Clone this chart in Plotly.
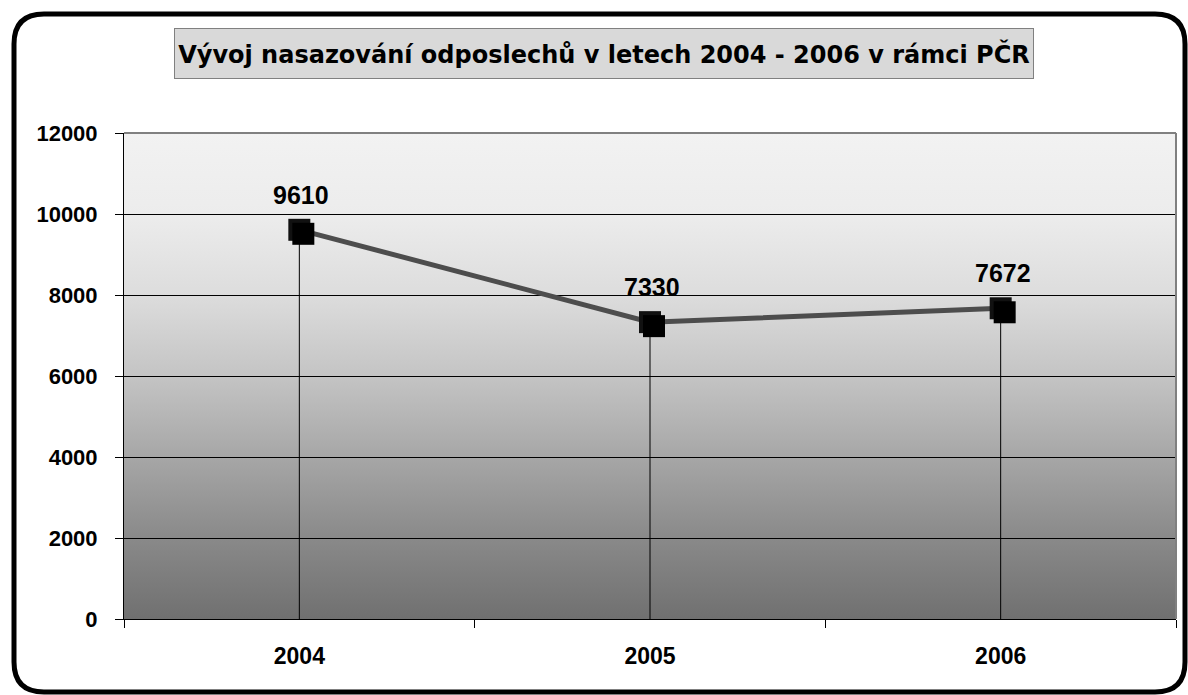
import base64
import plotly.graph_objects as go

# ---- data ----
years = ["2004", "2005", "2006"]
values = [9610, 7330, 7672]
y_ticks = [0, 2000, 4000, 6000, 8000, 10000, 12000]
title_text = "Vývoj nasazování odposlechů v letech 2004 - 2006 v rámci PČR"

# ---- geometry (pixels) ----
W, H = 1188, 695
ML, MR, MT, MB = 124, 12, 133, 76
PW, PH = W - ML - MR, H - MT - MB
YMAX = 12000

def px_x(px):
    return (px - ML) / PW

def px_y(py):
    return (H - MB - py) / PH

FONT = "Liberation Sans, Arial, sans-serif"

fig = go.Figure()

# drop lines
dx, dy = [], []
for c, v in zip(years, values):
    dx += [c, c, None]
    dy += [v, 0, None]
fig.add_trace(go.Scatter(x=dx, y=dy, mode="lines", line=dict(color="#000000", width=1),
                         hoverinfo="skip", showlegend=False))

# main line + markers
fig.add_trace(go.Scatter(x=years, y=values, mode="lines+markers",
                         line=dict(color="#4d4d4d", width=5),
                         marker=dict(symbol="square", size=22, color="#111111",
                                     line=dict(width=0)),
                         showlegend=False))

# marker shadow on a shifted overlay subplot
shift_px = 4
fig.add_trace(go.Scatter(x=years, y=values, mode="markers", xaxis="x2", yaxis="y2",
                         marker=dict(symbol="square", size=22, color="#000000",
                                     line=dict(width=0)),
                         hoverinfo="skip", showlegend=False))

# data labels (category index positions)
for i, v in enumerate(values):
    fig.add_annotation(x=i, y=v, xref="x", yref="y", text=str(v), showarrow=False,
                       xshift=2, yshift=35,
                       font=dict(family=FONT, size=25, color="#000000", weight="bold"))

# gradient background image
svg = ('<svg xmlns="http://www.w3.org/2000/svg" width="100" height="100" preserveAspectRatio="none">'
       '<defs><linearGradient id="g" x1="0" y1="0" x2="0" y2="1">'
       '<stop offset="0" stop-color="#f2f2f2"/>'
       '<stop offset="0.17" stop-color="#ececec"/>'
       '<stop offset="0.33" stop-color="#dddddd"/>'
       '<stop offset="0.5" stop-color="#c4c4c4"/>'
       '<stop offset="0.67" stop-color="#a6a6a6"/>'
       '<stop offset="0.83" stop-color="#8a8a8a"/>'
       '<stop offset="1" stop-color="#707070"/>'
       '</linearGradient></defs><rect width="100" height="100" fill="url(#g)"/></svg>')
src = "data:image/svg+xml;base64," + base64.b64encode(svg.encode()).decode()
fig.add_layout_image(source=src, xref="paper", yref="paper", x=0, y=1, sizex=1, sizey=1,
                     xanchor="left", yanchor="top", sizing="stretch", layer="below")

# plot area top/right gray borders
fig.add_shape(type="line", xref="paper", yref="paper", x0=0, x1=1, y0=1, y1=1,
              line=dict(color="#808080", width=2))
fig.add_shape(type="line", xref="paper", yref="paper", x0=1, x1=1, y0=0, y1=1,
              line=dict(color="#808080", width=2))

# rounded outer border
L, T, R, B, r = 14, 14, 1185, 692, 30
path = (f"M {px_x(L + r)} {px_y(T)} L {px_x(R - r)} {px_y(T)} "
        f"Q {px_x(R)} {px_y(T)} {px_x(R)} {px_y(T + r)} "
        f"L {px_x(R)} {px_y(B - r)} Q {px_x(R)} {px_y(B)} {px_x(R - r)} {px_y(B)} "
        f"L {px_x(L + r)} {px_y(B)} Q {px_x(L)} {px_y(B)} {px_x(L)} {px_y(B - r)} "
        f"L {px_x(L)} {px_y(T + r)} Q {px_x(L)} {px_y(T)} {px_x(L + r)} {px_y(T)} Z")
fig.add_shape(type="path", xref="paper", yref="paper", path=path,
              line=dict(color="#000000", width=5))

# title box
tx0, tx1, ty0, ty1 = 174, 1034, 28, 79
fig.add_annotation(xref="paper", yref="paper", x=px_x((tx0 + tx1) / 2), y=px_y((ty0 + ty1) / 2),
                   xanchor="center", yanchor="middle", showarrow=False,
                   text=title_text, width=tx1 - tx0 - 2, height=ty1 - ty0 - 2, borderpad=0,
                   bgcolor="#d9d9d9", bordercolor="#808080", borderwidth=1,
                   font=dict(family="DejaVu Sans, sans-serif", size=24, color="#000000",
                             weight="bold"))

xr = [-0.5, len(years) - 0.5]
xshift = shift_px / PW * (xr[1] - xr[0])
yshift = shift_px / PH * YMAX

fig.update_layout(
    width=W, height=H,
    margin=dict(l=ML, r=MR, t=MT, b=MB, pad=0),
    paper_bgcolor="#ffffff", plot_bgcolor="rgba(0,0,0,0)",
    showlegend=False,
    xaxis=dict(type="category", range=xr, showgrid=False, zeroline=False,
               showline=True, linecolor="#000000", linewidth=1,
               ticks="outside", tickson="boundaries", ticklen=8, tickcolor="#000000",
               ticklabelstandoff=16,
               tickfont=dict(family=FONT, size=23, color="#000000", weight="bold")),
    yaxis=dict(range=[0, YMAX], tickvals=y_ticks, ticktext=[str(t) for t in y_ticks],
               showgrid=True, gridcolor="#000000", gridwidth=1, zeroline=False,
               showline=True, linecolor="#000000", linewidth=1,
               ticks="outside", ticklen=8, tickcolor="#000000", ticklabelstandoff=13,
               tickfont=dict(family=FONT, size=22, color="#000000", weight="bold")),
    xaxis2=dict(type="category", range=[xr[0] - xshift, xr[1] - xshift], visible=False,
                anchor="y2", domain=[0, 1], categoryarray=years, categoryorder="array"),
    yaxis2=dict(range=[yshift, YMAX + yshift], visible=False, anchor="x2", domain=[0, 1]),
)

fig.write_html("out.html", config={"displayModeBar": False},
               post_script="document.body.style.margin='0';")
